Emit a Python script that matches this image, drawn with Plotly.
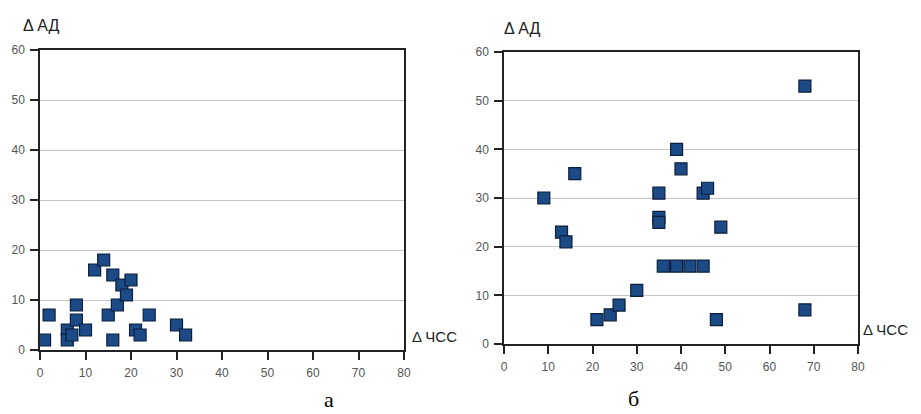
import plotly.graph_objects as go

# Panel "а"
a_hr = [1, 2, 6, 6, 7, 8, 8, 10, 12, 14, 15, 16, 16, 17, 18, 19, 20, 21, 22, 24, 30, 32]
a_bp = [2, 7, 4, 2, 3, 9, 6, 4, 16, 18, 7, 15, 2, 9, 13, 11, 14, 4, 3, 7, 5, 3]

# Panel "б"
b_hr = [9, 13, 14, 16, 21, 24, 26, 30, 35, 35, 35, 36, 39, 42, 45, 39, 40, 45, 46, 48, 49, 68, 68]
b_bp = [30, 23, 21, 35, 5, 6, 8, 11, 31, 26, 25, 16, 16, 16, 16, 40, 36, 31, 32, 5, 24, 53, 7]

x_ticks = [0, 10, 20, 30, 40, 50, 60, 70, 80]
y_ticks = [0, 10, 20, 30, 40, 50, 60]

OFF = 8  # page body margin
W, H = 921 - OFF, 414 - OFF

def px(x):
    return (x - OFF) / W

def py(y):
    return 1 - (y - OFF) / H

fig = go.Figure()

marker = dict(symbol="square", size=12, color="#1B4A86",
              line=dict(color="#0B1F3D", width=1.2))

fig.add_trace(go.Scatter(x=a_hr, y=a_bp, mode="markers", marker=marker,
                         xaxis="x", yaxis="y", cliponaxis=False, showlegend=False))
fig.add_trace(go.Scatter(x=b_hr, y=b_bp, mode="markers", marker=marker,
                         xaxis="x2", yaxis="y2", cliponaxis=False, showlegend=False))

tfont = dict(family="Liberation Sans, Arial", size=12, color="#555")

def xax(dom, anchor):
    return dict(domain=dom, anchor=anchor, range=[0, 80], tickvals=x_ticks,
                showgrid=False, zeroline=False, showline=True, linecolor="#222",
                linewidth=1.5, mirror=True, ticks="outside", ticklen=8,
                tickcolor="#222", tickwidth=1.5, tickfont=tfont,
                ticklabelstandoff=3, automargin=False, fixedrange=True)

def yax(dom, anchor):
    return dict(domain=dom, anchor=anchor, range=[0, 60], tickvals=y_ticks,
                showgrid=True, gridcolor="#C4C4C4", gridwidth=1,
                zeroline=False, showline=True, linecolor="#222",
                linewidth=1.5, mirror=True, ticks="outside", ticklen=8,
                tickcolor="#222", tickwidth=1.5, tickfont=tfont,
                ticklabelstandoff=3, automargin=False, fixedrange=True)

fig.update_layout(
    template="none",
    width=W, height=H,
    margin=dict(l=0, r=0, t=0, b=0, pad=0),
    paper_bgcolor="white", plot_bgcolor="white",
    xaxis=xax([px(40), px(404)], "y"),
    yaxis=yax([py(350), py(50)], "x"),
    xaxis2=xax([px(504), px(858)], "y2"),
    yaxis2=yax([py(344), py(52)], "x2"),
)

def ann(text, x, y, size=15, family="Liberation Sans, Arial", color="#222",
        xanchor="left", yanchor="middle"):
    fig.add_annotation(text=text, x=px(x), y=py(y), xref="paper", yref="paper",
                       showarrow=False, xanchor=xanchor, yanchor=yanchor,
                       font=dict(size=size, family=family, color=color))

ann("Δ АД", 21, 25, size=16)
ann("Δ АД", 502, 28, size=16)
ann("Δ ЧСС", 410, 336, size=15)
ann("Δ ЧСС", 861, 329, size=15)
ann("а", 329, 399, size=22, family="Liberation Serif, Times New Roman", color="#000",
    xanchor="center", yanchor="middle")
ann("б", 633, 398, size=22, family="Liberation Serif, Times New Roman", color="#000",
    xanchor="center", yanchor="middle")

fig.write_html("out.html")
